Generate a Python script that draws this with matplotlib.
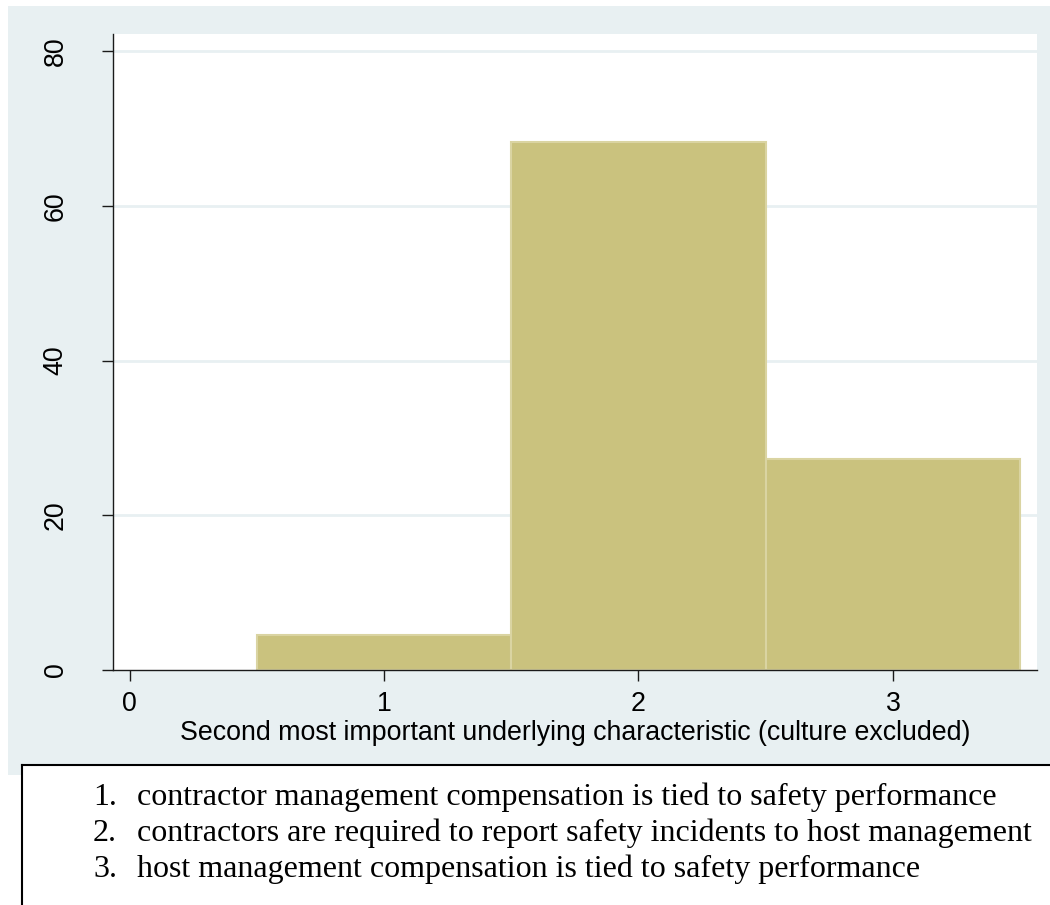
import numpy as np
import matplotlib.pyplot as plt
from matplotlib.patches import Rectangle
from matplotlib.lines import Line2D

# percent of respondents per category (n = 44)
categories = [1, 2, 3]
percent = [4.545, 68.18, 27.27]
yticks = [0, 20, 40, 60, 80]
xticks = [0, 1, 2, 3]
xlabel = 'Second most important underlying characteristic (culture excluded)'
notes = ['contractor management compensation is tied to safety performance',
	'contractors are required to report safety incidents to host management',
	'host management compensation is tied to safety performance']

W, H = 1050., 905.
bg = '#E8F0F2'
fill = '#CAC27E'
edge = '#DAD4A2'

plt.rcParams['font.family'] = ['Liberation Sans', 'DejaVu Sans']

fig = plt.figure(figsize = (10.5, 9.05), dpi = 100, facecolor = 'white')
# stata graph region
fig.patches.append(Rectangle((8 / W, 1 - 775 / H), 1 - 8 / W, (775 - 6) / H,
	transform = fig.transFigure, facecolor = bg, edgecolor = 'none', zorder = -2))
# white note box over it
fig.patches.append(Rectangle((22 / W, 0.), 1 - 22 / W, 1 - 765 / H,
	transform = fig.transFigure, facecolor = 'white', edgecolor = 'none', zorder = -1))

ax = fig.add_axes([113 / W, 1 - 670 / H, (1037 - 113) / W, (670 - 34) / H])
ax.set_facecolor('white')
ax.bar(categories, percent, width = 1., color = fill, edgecolor = edge, lw = 1.5, zorder = 3)

ax.set_xlim(-0.065, 3.566)
ax.set_ylim(0, 82.2)
ax.set_xticks(xticks)
ax.set_yticks(yticks)
ax.set_yticklabels([str(t) for t in yticks], rotation = 90, va = 'center')
for t in yticks[1:]:
	ax.axhline(t, color = bg, lw = 2., zorder = 1)
for s in ['top', 'right']:
	ax.spines[s].set_visible(False)
for s in ['left', 'bottom']:
	ax.spines[s].set_color('#1a1a1a')
	ax.spines[s].set_linewidth(1.)
	ax.spines[s].set_zorder(4)
ax.tick_params(axis = 'y', length = 8, width = 1., color = '#1a1a1a', labelsize = 19.3, pad = 24)
ax.tick_params(axis = 'x', length = 8, width = 1., color = '#1a1a1a', labelsize = 19.3, pad = 7)
ax.set_xlabel(xlabel, fontsize = 19.3, labelpad = 2)

# note box under the graph
fig.lines.append(Line2D([22 / W, 1.], [1 - 765 / H, 1 - 765 / H], transform = fig.transFigure, color = 'black', lw = 1.5))
fig.lines.append(Line2D([22 / W, 22 / W], [1 - 765 / H, 0.], transform = fig.transFigure, color = 'black', lw = 1.5))
for i, s in enumerate(notes):
	y = 1 - (805 + 36 * i) / H
	fig.text(93 / W, y, '%d.' % (i + 1), family = 'Liberation Serif', fontsize = 23, va = 'baseline')
	fig.text(137 / W, y, s, family = 'Liberation Serif', fontsize = 23, va = 'baseline')

plt.savefig('out.png', dpi = 100, facecolor = 'white')
